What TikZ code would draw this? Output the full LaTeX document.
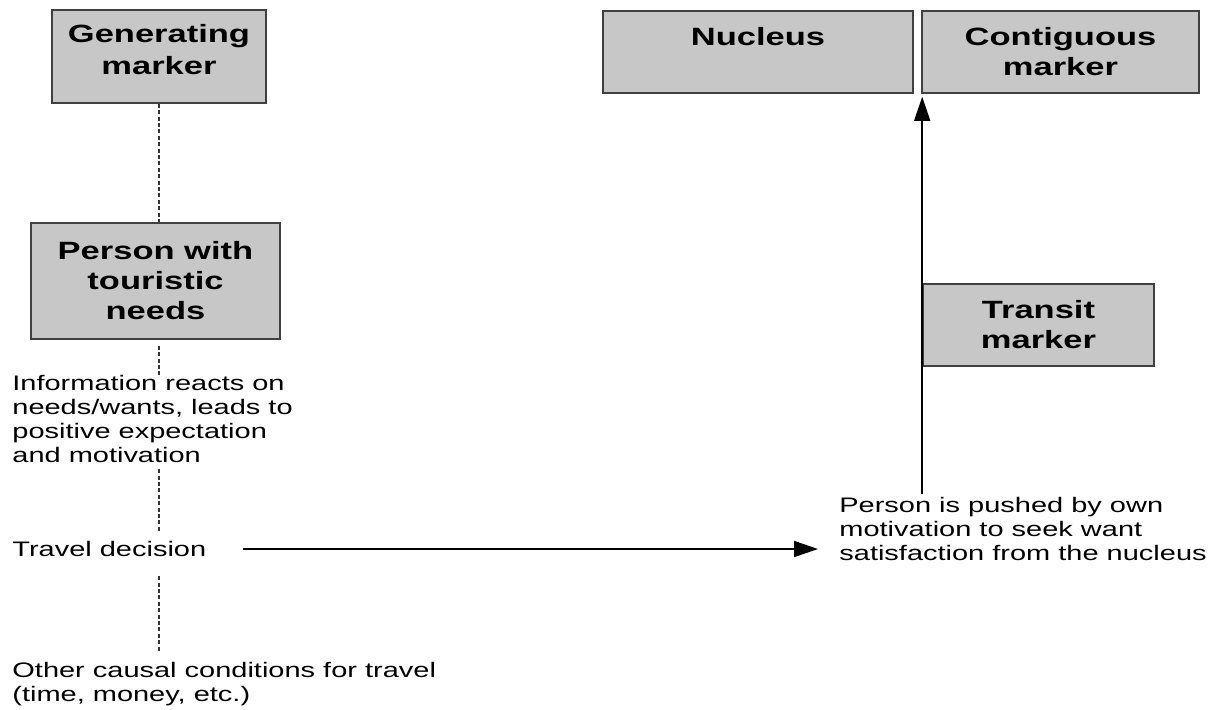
\documentclass[tikz,border=0pt]{standalone}
\usepackage{fontspec}
\setmainfont{Liberation Sans}[FakeStretch=1.38]
\usetikzlibrary{arrows.meta}

\begin{document}
\begin{tikzpicture}[x=0.5pt, y=-0.5pt,
  marker/.style={draw=black!75, line width=0.8pt, fill=black!22, inner sep=0pt, align=center, font=\fontsize{12.5pt}{15pt}\selectfont\bfseries},
  note/.style={inner sep=0pt, align=left, anchor=west, font=\fontsize{10.5pt}{12pt}\selectfont},
  link/.style={draw=black!80, line width=0.9pt, dash pattern=on 2pt off 1.2pt},
  push/.style={line width=0.8pt, -{Triangle[length=12pt, width=8pt]}}]

\useasboundingbox (0, 0) rectangle (1223, 709);

% markers
\node [marker, minimum width=107pt, minimum height=46.5pt] (gen) at (159, 56.5) {Generating\\[0.8pt]marker\\[-8pt]};
\node [marker, minimum width=124.5pt, minimum height=58pt] (person) at (155.5, 281) {Person with\\touristic\\needs};
\node [marker, minimum width=155pt, minimum height=41pt] (nucleus) at (758, 52) {Nucleus\\\phantom{marker}};
\node [marker, minimum width=138.5pt, minimum height=41pt] (contig) at (1060.5, 52) {Contiguous\\marker};
\node [marker, minimum width=115.5pt, minimum height=41pt] (transit) at (1038.5, 325) {Transit\\marker};

% notes
\node [note] (info) at (12, 419) {Information reacts on\\needs/wants, leads to\\positive expectation\\and motivation};
\node [note] (travel) at (12, 549) {Travel decision};
\node [note] (other) at (12, 684.5) {Other causal conditions for travel\\(time, money, etc.)};
\node [note] (pushed) at (839, 529) {Person is pushed by own\\motivation to seek want\\satisfaction from the nucleus};

\draw [link] (gen.south) -- (gen.south |- person.north);
\draw [link, shorten <=3pt] (gen.south |- person.south) -- (gen.south |- info.north);
\draw [link, shorten <=3pt, shorten >=5pt] (gen.south |- info.south) -- (gen.south |- travel.north);
\draw [link, shorten <=9.5pt, shorten >=5pt] (gen.south |- travel.south) -- (gen.south |- other.north);

\draw [push, shorten <=18pt, shorten >=10.5pt] (travel.east) -- (travel.east -| pushed.west);
\draw [push, shorten <=1.5pt, shorten >=1.5pt] (transit.west |- pushed.north) -- (transit.west |- nucleus.south);

\end{tikzpicture}
\end{document}
